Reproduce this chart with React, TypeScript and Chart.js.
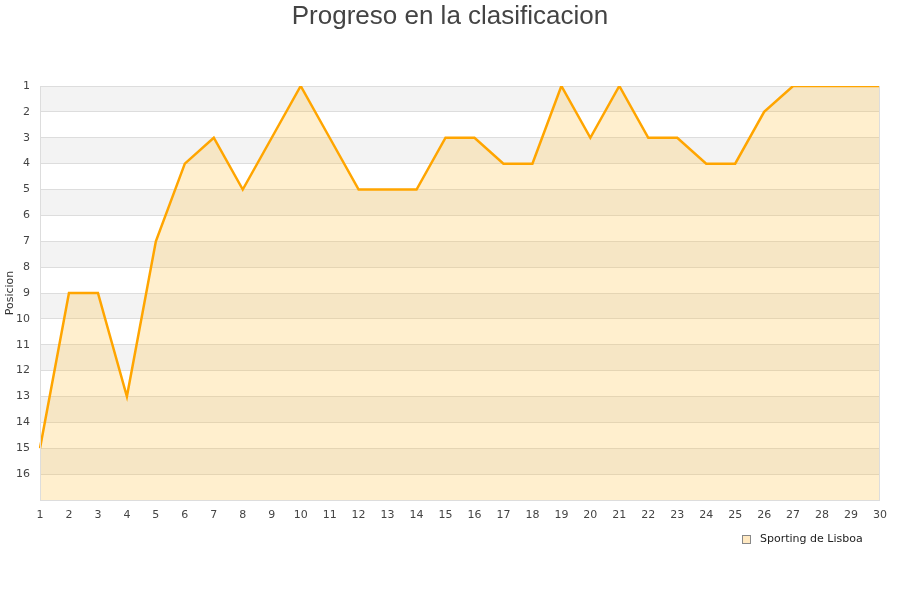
import React, { useEffect, useRef } from "react";
import { Chart, registerables } from "chart.js";

Chart.register(...registerables);

const jornadas = Array.from({ length: 30 }, (_, i) => String(i + 1));
const posiciones = [15, 9, 9, 13, 7, 4, 3, 5, 3, 1, 3, 5, 5, 5, 3, 3, 4, 4, 1, 3, 1, 3, 3, 4, 4, 2, 1, 1, 1, 1];
const teamName = "Sporting de Lisboa";
const chartTitle = "Progreso en la clasificacion";
const yTitle = "Posicion";

const decorPlugin = {
  id: "decor",
  beforeDraw(chart: any) {
    const { ctx, chartArea, scales } = chart;
    const y = scales.y;
    ctx.save();
    ctx.fillStyle = "#f3f3f3";
    for (let v = 1; v < 17; v += 2) {
      const top = y.getPixelForValue(v);
      const bot = y.getPixelForValue(v + 1);
      ctx.fillRect(chartArea.left, top, chartArea.right - chartArea.left, bot - top);
    }
    ctx.restore();
  },
  afterDatasetsDraw(chart: any) {
    const { ctx, chartArea } = chart;
    ctx.save();
    ctx.strokeStyle = "#dddddd";
    ctx.lineWidth = 1;
    ctx.beginPath();
    ctx.moveTo(chartArea.left + 0.5, chartArea.top);
    ctx.lineTo(chartArea.left + 0.5, chartArea.bottom + 0.5);
    ctx.lineTo(chartArea.right - 0.5, chartArea.bottom + 0.5);
    ctx.lineTo(chartArea.right - 0.5, chartArea.top);
    ctx.stroke();
    ctx.restore();
  },
  afterDraw(chart: any) {
    const { ctx } = chart;
    ctx.save();
    ctx.fillStyle = "#444444";
    ctx.font = "26px 'Liberation Sans'";
    ctx.textAlign = "center";
    ctx.textBaseline = "middle";
    ctx.fillText(chartTitle, 450, 17);
    ctx.fillStyle = "#ffe9c2";
    ctx.fillRect(742.5, 535.5, 8, 8);
    ctx.strokeStyle = "#888888";
    ctx.lineWidth = 1;
    ctx.strokeRect(742.5, 535.5, 8, 8);
    ctx.fillStyle = "#222222";
    ctx.font = "11px 'DejaVu Sans'";
    ctx.textAlign = "left";
    ctx.textBaseline = "middle";
    ctx.fillText(teamName, 760, 539.5);
    ctx.restore();
  },
};

export default function App() {
  const ref = useRef<HTMLCanvasElement>(null);
  useEffect(() => {
    if (!ref.current) return;
    const chart = new Chart(ref.current, {
      type: "line",
      data: {
        labels: jornadas,
        datasets: [
          {
            label: teamName,
            data: posiciones,
            borderColor: "#ffa500",
            backgroundColor: "rgba(255, 190, 60, 0.25)",
            borderWidth: 2.5,
            pointRadius: 0,
            tension: 0,
            fill: { value: 17 },
          },
        ],
      },
      options: {
        animation: false,
        responsive: false,
        layout: { padding: { left: 0, right: 20, top: 86, bottom: 76 } },
        plugins: {
          title: { display: false },
          legend: { display: false },
          tooltip: { enabled: false },
        },
        scales: {
          x: {
            grid: { display: false },
            border: { display: false },
            ticks: {
              color: "#444444",
              font: { family: "DejaVu Sans", size: 11 },
              maxRotation: 0,
              autoSkip: false,
              padding: 1,
            },
            afterFit: (s: any) => {
              s.height = 24;
            },
          },
          y: {
            reverse: true,
            min: 1,
            max: 17,
            grid: { color: "#dddddd", drawTicks: false },
            border: { display: false },
            ticks: {
              stepSize: 1,
              color: "#444444",
              font: { family: "DejaVu Sans", size: 11 },
              padding: 10,
              callback: (v: any) => (v === 17 ? "" : String(v)),
            },
            title: {
              display: true,
              text: yTitle,
              color: "#333333",
              font: { family: "DejaVu Sans", size: 11 },
              padding: { top: 4, bottom: 0 },
            },
            afterFit: (s: any) => {
              s.width = 40;
            },
          },
        },
      },
      plugins: [decorPlugin],
    });
    return () => chart.destroy();
  }, []);
  return (
    <div style={{ position: "fixed", left: 0, top: 0, width: 900, height: 600, background: "#fff" }}>
      <canvas ref={ref} width={900} height={600} />
    </div>
  );
}
